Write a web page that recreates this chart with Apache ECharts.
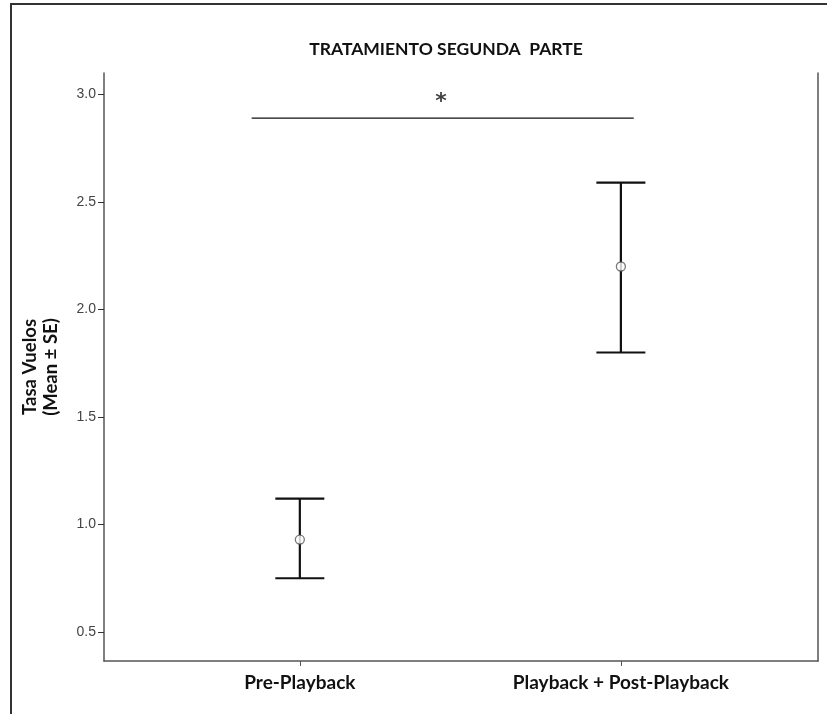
<!DOCTYPE html>
<html>
<head>
<meta charset="utf-8">
<script src="https://cdn.jsdelivr.net/npm/echarts@6/dist/echarts.min.js"></script>
<style>html,body{margin:0;padding:0;background:#fff}#c{width:827px;height:714px}</style>
</head>
<body>
<div id="c"></div>
<script>
var categories = ['Pre-Playback', 'Playback + Post-Playback'];
var means = [0.93, 2.20];
var lower = [0.75, 1.80];
var upper = [1.12, 2.59];
var yTicks = [0.5, 1.0, 1.5, 2.0, 2.5, 3.0];
var sigLineX = [-0.15, 1.04];
var sigLineY = 2.89;
var sigMark = { x: 0.44, y: 2.965, text: '*' };

var chart = echarts.init(document.getElementById('c'));
var errData = categories.map(function (c, i) { return [i, lower[i], upper[i]]; });
var meanData = categories.map(function (c, i) { return [i, means[i]]; });

chart.setOption({
  animation: false,
  backgroundColor: '#fff',
  title: {
    text: 'TRATAMIENTO SEGUNDA  PARTE',
    left: 441, top: 35, textAlign: 'center',
    textStyle: { fontFamily: 'Lato', fontWeight: 'bold', fontSize: 17.5, color: '#111' }
  },
  graphic: [{
    type: 'polyline',
    shape: { points: [[11, 714], [11, 4], [827, 4]] },
    style: { stroke: '#333', lineWidth: 2, fill: null }
  }],
  grid: { left: 104, right: 9, top: 73, bottom: 53, containLabel: false, outerBoundsMode: 'none' },
  xAxis: {
    type: 'value', min: -0.61, max: 1.614,
    splitLine: { show: false },
    axisLine: { show: true, onZero: false, lineStyle: { color: '#555', width: 1.5 } },
    axisTick: { show: true, customValues: [0, 1], length: 5, lineStyle: { color: '#555' } },
    axisLabel: {
      customValues: [0, 1],
      formatter: function (v) { return categories[Math.round(v)]; },
      fontFamily: 'Lato', fontWeight: 'bold', fontSize: 19, color: '#111', margin: 12
    }
  },
  yAxis: [{
    type: 'value', min: 0.365, max: 3.1,
    name: 'Tasa Vuelos\n(Mean ± SE)', nameLocation: 'middle', nameGap: 42, nameRotate: 90,
    nameTextStyle: { fontFamily: 'Lato', fontWeight: 'bold', fontSize: 18.5, color: '#111', lineHeight: 21 },
    splitLine: { show: false },
    axisLine: { show: true, onZero: false, lineStyle: { color: '#555', width: 1.5 } },
    axisTick: { show: true, customValues: yTicks, length: 6, lineStyle: { color: '#333' } },
    axisLabel: {
      customValues: yTicks, margin: 8,
      formatter: function (v) { return v.toFixed(1); },
      fontFamily: 'Liberation Sans', fontSize: 14, color: '#444'
    }
  }, {
    type: 'value', min: 0.365, max: 3.1, position: 'right',
    splitLine: { show: false },
    axisLine: { show: true, onZero: false, lineStyle: { color: '#555', width: 1.5 } },
    axisTick: { show: false }, axisLabel: { show: false }
  }],
  series: [{
    type: 'custom',
    data: errData,
    renderItem: function (params, api) {
      var x = api.value(0);
      var lo = api.coord([x, api.value(1)]);
      var hi = api.coord([x, api.value(2)]);
      var hw = 24.5;
      var st = { stroke: '#111', lineWidth: 2.2 };
      return {
        type: 'group',
        children: [
          { type: 'line', shape: { x1: lo[0], y1: lo[1], x2: hi[0], y2: hi[1] }, style: st },
          { type: 'line', shape: { x1: hi[0] - hw, y1: hi[1], x2: hi[0] + hw, y2: hi[1] }, style: st },
          { type: 'line', shape: { x1: lo[0] - hw, y1: lo[1], x2: lo[0] + hw, y2: lo[1] }, style: st }
        ]
      };
    }
  }, {
    type: 'scatter',
    data: meanData,
    symbol: 'circle', symbolSize: 9,
    itemStyle: { color: '#fff', borderColor: '#555', borderWidth: 1.3 },
    z: 5
  }, {
    type: 'line',
    data: [[sigLineX[0], sigLineY], [sigLineX[1], sigLineY]],
    showSymbol: false, symbol: 'none',
    lineStyle: { color: '#111', width: 1.2 }
  }, {
    type: 'scatter',
    data: [[sigMark.x, sigMark.y]],
    symbolSize: 1,
    itemStyle: { color: 'rgba(0,0,0,0)' },
    label: { show: true, position: 'inside', formatter: sigMark.text, fontSize: 22, fontWeight: 'bold', color: '#111', fontFamily: 'DejaVu Sans' }
  }]
});
</script>
</body>
</html>
